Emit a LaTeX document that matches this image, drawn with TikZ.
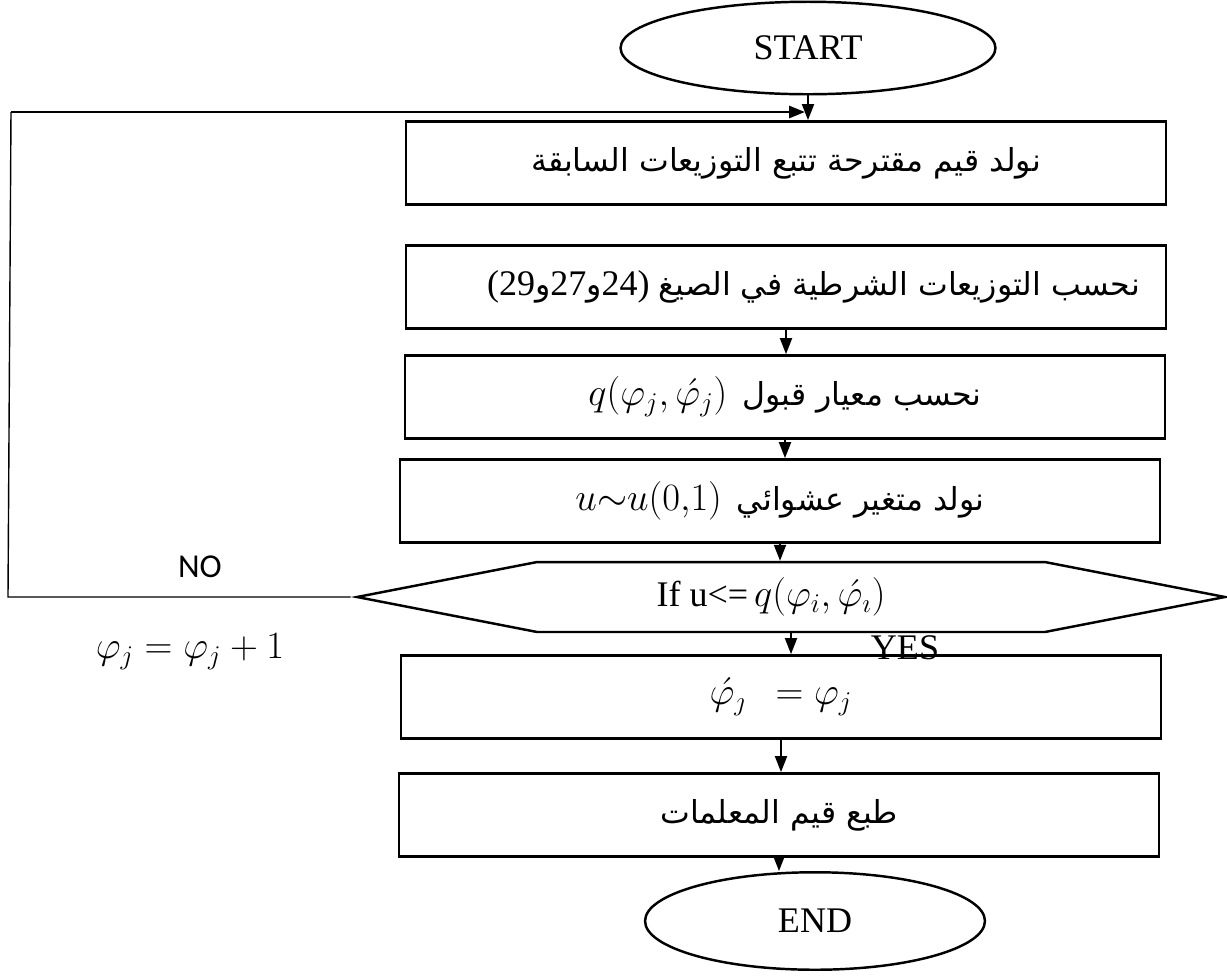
\RequirePackage{fix-cm}
\documentclass[tikz,border=0pt]{standalone}
\usepackage{amsmath}
\usepackage{amssymb}
\usepackage{fontspec}
\setmainfont{Liberation Serif}
\newfontfamily\arabicfont[Script=Arabic]{DejaVu Sans}
\newfontfamily\labelfont{Carlito}
\TeXXeTstate=1
\usetikzlibrary{shapes.geometric,shapes.symbols,arrows.meta}

\newcommand{\artext}[1]{{\arabicfont\fontsize{18}{22}\selectfont\beginR #1\endR}}
\newcommand{\mth}[1]{{\fontsize{22}{26}\selectfont$#1$}}

\begin{document}
\begin{tikzpicture}
    [x=0.02cm,y=-0.02cm,
     every node/.style={font=\fontsize{20.5}{24}\selectfont},
     terminal/.style={draw,ellipse,line width=1.4pt,minimum width=7.5cm,minimum height=1.85cm},
     process/.style={draw,rectangle,line width=1.6pt,minimum width=15.2cm,minimum height=1.66cm},
     decision/.style={draw,signal,signal to=east and west,signal pointer angle=22,line width=1.4pt,
                      minimum width=17.36cm,minimum height=1.4cm},
     flow/.style={-{Triangle[length=0.32cm,width=0.24cm]},line width=1.1pt}]
    \useasboundingbox (0,0) rectangle (1227,975);

    \node[terminal] (start) at (808,48)  {START};
    \node[process] (gen)    at (786,163) {\artext{نولد قيم مقترحة تتبع التوزيعات السابقة}};
    \node[process] (cond)   at (786,287) {\hspace*{1.1cm}(29\artext{و}27\artext{و}24) \artext{نحسب التوزيعات الشرطية في الصيغ}};
    \node[process] (accept) at (785,397) {\mth{q(\varphi_j,\acute{\varphi}_j)}\, \artext{نحسب معيار قبول}};
    \node[process] (rand)   at (780,501) {\mth{u{\sim}u(0{,}1)}\, \artext{نولد متغير عشوائي}};
    \node[decision] (test)  at (791,597) {If u<=\,\mth{q(\varphi_i,\acute{\varphi}_\imath)}\hspace*{0.8cm}};
    \node[process] (keep)   at (781,697) {\mth{\acute{\varphi}_\jmath\ \ =\varphi_j}};
    \node[process] (print)  at (779,815) {\artext{طبع قيم المعلمات}};
    \node[terminal,minimum width=6.8cm,minimum height=1.95cm] (end) at (815,921) {END};

    \node (yes)  at (905,648) {YES};
    \node[font=\labelfont\fontsize{19}{23}\selectfont] (no) at (200,567) {NO};
    \node (incr) at (190,652) {\mth{\varphi_j=\varphi_j+1}};

    \coordinate (nocorner)   at (8,597);
    \coordinate (loopcorner) at (11,112);
    \coordinate (loopin)     at (805,112);

    \draw[flow] (start.south) -- (start.south |- gen.north);
    \foreach \from/\to in {cond/accept,accept/rand,rand/test,test/keep,keep/print,print/end}
    \draw[flow] (\from.south) -- (\from.south |- \to.north);

    % retour si NO
    \draw[line width=0.8pt] (test.west) -- (nocorner) -- (loopcorner);
    \draw[flow,line width=1.6pt] (loopcorner) -- (loopin);
\end{tikzpicture}
\end{document}
